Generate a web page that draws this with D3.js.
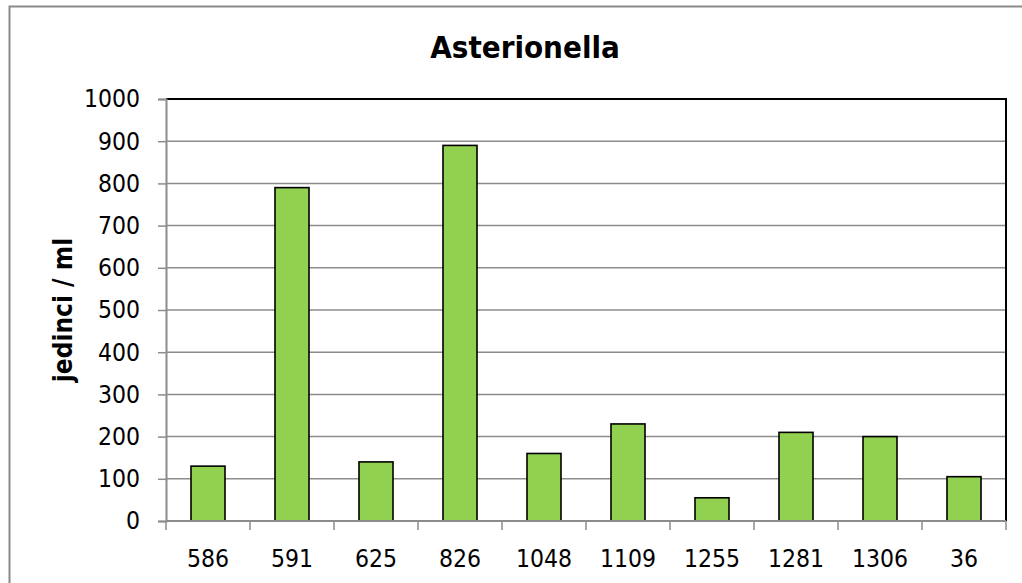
<!DOCTYPE html>
<html>
<head>
<meta charset="utf-8">
<script src="https://cdn.jsdelivr.net/npm/d3@7"></script>
<style>
  html, body { margin: 0; padding: 0; background: #fff; }
  svg { display: block; }
  text { font-stretch: condensed; }
</style>
</head>
<body>
<svg id="chart" width="1022" height="583"></svg>
<script>
// Sample sites and Asterionella counts (individuals per ml)
const categories = ["586", "591", "625", "826", "1048", "1109", "1255", "1281", "1306", "36"];
const values = [130, 790, 140, 890, 160, 230, 55, 210, 200, 105];
const yTicks = [0, 100, 200, 300, 400, 500, 600, 700, 800, 900, 1000];
const titleText = "Asterionella";
const yLabelText = "jedinci / ml";

const W = 1022, H = 583;
const plot = { left: 166, right: 1006, top: 99, bottom: 521 };
const font = "'DejaVu Sans Condensed', 'DejaVu Sans', Verdana, sans-serif";

const svg = d3.select("#chart");

// chart frame
svg.append("rect")
  .attr("x", 9.5).attr("y", 6.5)
  .attr("width", W + 20).attr("height", H + 20)
  .attr("fill", "#fff")
  .attr("stroke", "#8a8a8a").attr("stroke-width", 2);

const x = d3.scaleBand()
  .domain(categories)
  .range([plot.left, plot.right])
  .paddingInner(0.595).paddingOuter(0.2975);

const y = d3.scaleLinear()
  .domain([0, 1000])
  .range([plot.bottom, plot.top]);

// horizontal gridlines
svg.append("g")
  .selectAll("line")
  .data(yTicks.filter(d => d > 0 && d < 1000))
  .join("line")
  .attr("x1", plot.left).attr("x2", plot.right)
  .attr("y1", d => y(d)).attr("y2", d => y(d))
  .attr("stroke", "#8c8c8c").attr("stroke-width", 1.5);

// top and right plot border
svg.append("path")
  .attr("d", `M${plot.left},${plot.top}H${plot.right}V${plot.bottom}`)
  .attr("fill", "none").attr("stroke", "#000").attr("stroke-width", 2);

// bars
svg.append("g")
  .selectAll("rect")
  .data(values)
  .join("rect")
  .attr("x", (d, i) => x(categories[i]))
  .attr("y", d => y(d))
  .attr("width", x.bandwidth())
  .attr("height", d => y(0) - y(d))
  .attr("fill", "#92D050")
  .attr("stroke", "#000").attr("stroke-width", 1.6);

// y axis
const yAxis = svg.append("g")
  .attr("transform", `translate(${plot.left},0)`)
  .call(d3.axisLeft(y).tickValues(yTicks).tickSize(8).tickPadding(18).tickFormat(d3.format("d")));
yAxis.select(".domain").attr("stroke", "#8c8c8c").attr("stroke-width", 2);
yAxis.selectAll(".tick line").attr("stroke", "#8c8c8c").attr("stroke-width", 1.5);
yAxis.selectAll(".tick text")
  .attr("font-family", font).attr("font-size", 24.5).attr("fill", "#000");

// x axis: ticks at category boundaries
const boundaries = d3.range(categories.length + 1).map(i => plot.left + i * x.step());
const xg = svg.append("g");
xg.append("line")
  .attr("x1", plot.left).attr("x2", plot.right)
  .attr("y1", plot.bottom).attr("y2", plot.bottom)
  .attr("stroke", "#8c8c8c").attr("stroke-width", 2);
xg.selectAll("line.tk")
  .data(boundaries)
  .join("line").attr("class", "tk")
  .attr("x1", d => d).attr("x2", d => d)
  .attr("y1", plot.bottom).attr("y2", plot.bottom + 9)
  .attr("stroke", "#8c8c8c").attr("stroke-width", 1.5);
xg.selectAll("text")
  .data(categories)
  .join("text")
  .attr("x", d => x(d) + x.bandwidth() / 2)
  .attr("y", 567)
  .attr("text-anchor", "middle")
  .attr("font-family", font).attr("font-size", 24.5).attr("fill", "#000")
  .text(d => d);

// title
svg.append("text")
  .attr("x", 525).attr("y", 58)
  .attr("text-anchor", "middle")
  .attr("font-family", font).attr("font-weight", "bold").attr("font-size", 31)
  .attr("fill", "#000")
  .text(titleText);

// y axis title
svg.append("text")
  .attr("transform", `translate(72,${(plot.top + plot.bottom) / 2}) rotate(-90)`)
  .attr("text-anchor", "middle")
  .attr("font-family", font).attr("font-weight", "bold").attr("font-size", 26)
  .attr("fill", "#000")
  .text(yLabelText);
</script>
</body>
</html>
